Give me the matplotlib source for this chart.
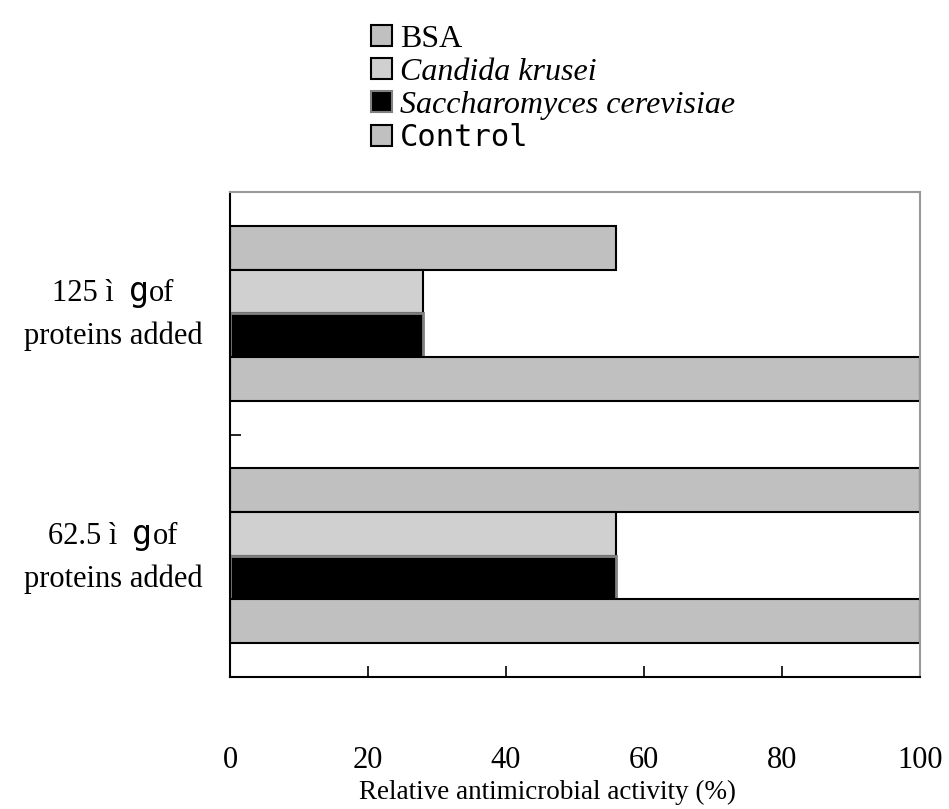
import numpy as np
import matplotlib
matplotlib.use('Agg')
import matplotlib.pyplot as plt
from matplotlib.patches import Patch
from matplotlib.offsetbox import TextArea, HPacker, VPacker, AnnotationBbox

# relative activity (%) for each protein, bottom group first
doses = ['62.5', '125']
bsa = [100, 56]
candida = [56, 28]
sacch = [56, 28]
control = [100, 100]

series_names = ['BSA', 'Candida krusei', 'Saccharomyces cerevisiae', 'Control']
fills = ['#c0c0c0', '#d0d0d0', '#000000', '#c0c0c0']
edges = ['#000000', '#000000', '#808080', '#000000']

SERIF = 'Liberation Serif'
MONO = 'DejaVu Sans Mono'

fig = plt.figure(figsize=(9.49, 8.09), dpi=100)
ax = fig.add_axes([230 / 949, 1 - 677 / 809, 690 / 949, 485 / 809])

y = np.arange(len(doses))
h = 0.18
offsets = [1.5 * h, 0.5 * h, -0.5 * h, -1.5 * h]
for vals, off, fc, ec in zip([bsa, candida, sacch, control], offsets, fills, edges):
    ax.barh(y + off, vals, height=h, color=fc, edgecolor=ec, linewidth=1.5 if ec == '#000000' else 2.0)

ax.set_xlim(0, 100)
ax.set_ylim(-0.5, 1.5)

ax.set_xticks(np.arange(0, 101, 20))
ax.set_xticklabels([str(v) for v in range(0, 101, 20)], fontfamily=SERIF, fontsize=22)
ax.tick_params(axis='x', direction='in', length=8, width=1.2, pad=50, color='black')
ax.set_yticks([-0.5, 0.5, 1.5])
ax.set_yticklabels([])
ax.tick_params(axis='y', direction='in', length=8, width=1.2)

for side in ['left', 'bottom']:
    ax.spines[side].set_color('black')
    ax.spines[side].set_linewidth(1.5)
for side in ['top', 'right']:
    ax.spines[side].set_color('#999999')
    ax.spines[side].set_linewidth(1.5)

ax.set_xlabel('Relative antimicrobial activity (%)', fontfamily=SERIF, fontsize=19.5)
ax.xaxis.set_label_coords(0.46, -0.213)

# category labels with the odd "g" glyph in a different face
for yi, dose in zip(y, doses):
    line1 = HPacker(children=[
        TextArea(dose + ' ì  ', textprops=dict(fontfamily=SERIF, fontsize=22)),
        TextArea('g', textprops=dict(fontfamily=MONO, fontsize=24)),
        TextArea('of', textprops=dict(fontfamily=SERIF, fontsize=22)),
    ], align='baseline', pad=0, sep=0)
    line2 = TextArea('proteins added', textprops=dict(fontfamily=SERIF, fontsize=22))
    block = VPacker(children=[line1, line2], align='center', pad=0, sep=10)
    ab = AnnotationBbox(block, (0, yi), xycoords=('axes fraction', 'data'),
                        xybox=(-20, 0), boxcoords='offset points',
                        box_alignment=(1, 0.5), frameon=False)
    ax.add_artist(ab)

handles = [Patch(facecolor=fc, edgecolor=ec, linewidth=1.5) for fc, ec in zip(fills, edges)]
leg = fig.legend(handles, series_names, loc='upper left', bbox_to_anchor=(371 / 949, 1 - 25 / 809),
                 frameon=False, borderpad=0, borderaxespad=0, labelspacing=0.12,
                 handlelength=0.65, handleheight=0.65, handletextpad=0.25,
                 prop=dict(family=SERIF, size=23))
texts = leg.get_texts()
texts[1].set_fontstyle('italic')
texts[2].set_fontstyle('italic')
texts[3].set_fontfamily(MONO)
texts[3].set_fontsize(22)

fig.savefig('out.png', dpi=100)
